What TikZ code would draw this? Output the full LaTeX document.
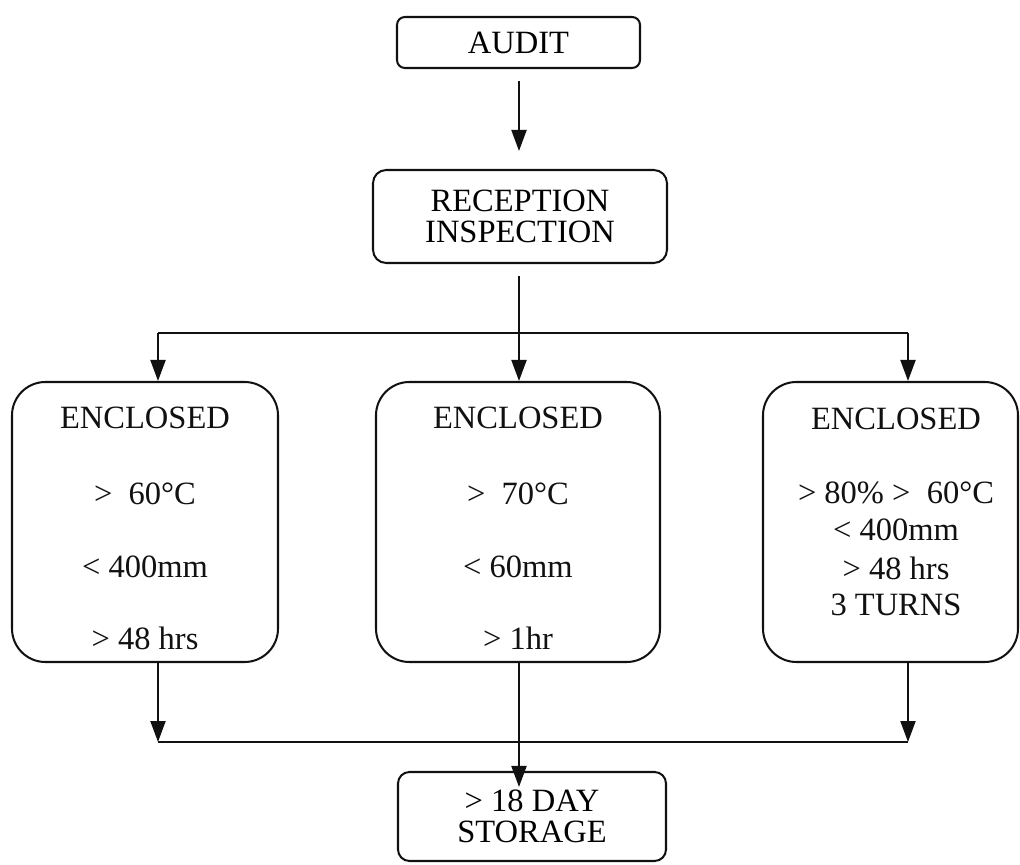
\documentclass[tikz,border=0pt]{standalone}
\usepackage{fontspec}
\setmainfont{Liberation Serif}
\usetikzlibrary{arrows.meta}
\definecolor{chartInk}{HTML}{111111}

\begin{document}
\begin{tikzpicture}[
  x=1cm,
  y=1cm,
  stepfont/.style={font=\fontsize{18.5}{21}\selectfont},
  card/.style={
    stepfont,
    draw=chartInk,
    fill=white,
    line width=1.15pt,
    align=center,
    inner sep=0pt
  },
  smallcard/.style={card, rounded corners=4.5pt},
  widecard/.style={card, rounded corners=7.5pt},
  bigcard/.style={card, rounded corners=19pt, minimum height=5.6cm},
  boxtext/.style={stepfont, text=chartInk, inner sep=0pt},
  line/.style={draw=chartInk, line width=1.15pt},
  flow/.style={line, -{Triangle[length=0.42cm,width=0.3cm]}}
]

\path[use as bounding box] (0,0) rectangle (20.4,17.28);

% top of the chart
\node[smallcard, minimum width=4.86cm, minimum height=1.02cm] (audit) at (10.37,16.43) {AUDIT};
\node[widecard, minimum width=5.88cm, minimum height=1.86cm] (reception) at (10.4,12.95)
  {RECEPTION\\[-3pt]INSPECTION};

% three treatments
\node[bigcard, minimum width=5.32cm] (encA) at (2.9,6.84) {};
\node[bigcard, minimum width=5.68cm] (encB) at (10.36,6.84) {};
\node[bigcard, minimum width=5.1cm] (encC) at (17.81,6.84) {};

\node[boxtext] (encAhead) at (2.9,8.92) {ENCLOSED};
\node[boxtext] (encAtemp) at (2.9,7.4) {> \ 60°C};
\node[boxtext] (encAsize) at (2.9,5.94) {< 400mm};
\node[boxtext] (encAtime) at (2.9,4.52) {> 48 hrs};

\node[boxtext] (encBhead) at (10.36,8.92) {ENCLOSED};
\node[boxtext] (encBtemp) at (10.36,7.4) {> \ 70°C};
\node[boxtext] (encBsize) at (10.36,5.94) {< 60mm};
\node[boxtext] (encBtime) at (10.36,4.52) {> 1hr};

\node[boxtext] (encChead) at (17.92,8.9) {ENCLOSED};
\node[boxtext] (encCtemp) at (17.92,7.42) {> 80\% > \ 60°C};
\node[boxtext] (encCsize) at (17.92,6.68) {< 400mm};
\node[boxtext] (encCtime) at (17.92,5.92) {> 48 hrs};
\node[boxtext] (encCturn) at (17.92,5.18) {3 TURNS};

% end of the chart
\node[smallcard, minimum width=5.36cm, minimum height=1.78cm, rounded corners=6.5pt] (storage) at (10.64,0.95)
  {> 18 DAY\\[-3pt]STORAGE};

\coordinate (splitL) at (3.16,10.62);
\coordinate (splitM) at (10.38,10.62);
\coordinate (splitR) at (18.16,10.62);
\coordinate (joinL) at (3.16,2.44);
\coordinate (joinR) at (18.16,2.44);

\draw[flow, shorten <=0.24cm, shorten >=0.36cm] (audit.south -| splitM) -- (reception.north -| splitM);
\draw[line, shorten <=0.24cm] (reception.south -| splitM) -- (splitM);
\draw[line] (splitL) -- (splitR);
\draw[flow] (splitL) -- (splitL |- encA.north);
\draw[flow] (splitM) -- (splitM |- encB.north);
\draw[flow] (splitR) -- (splitR |- encC.north);

\draw[flow] (joinL |- encA.south) -- (joinL);
\draw[flow] (joinR |- encC.south) -- (joinR);
\draw[line] (joinL) -- (joinR);
\draw[flow, shorten >=-0.32cm] (splitM |- encB.south) -- (splitM |- storage.north);
\end{tikzpicture}
\end{document}
